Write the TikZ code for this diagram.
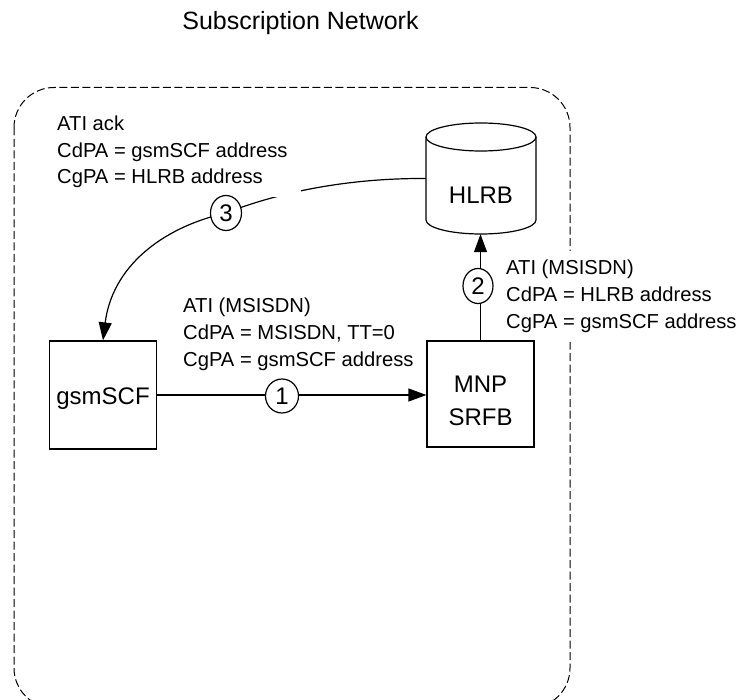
\documentclass[tikz,border=0pt]{standalone}
\usepackage{fontspec}
\setmainfont{Liberation Sans}
\usetikzlibrary{arrows.meta,shapes.geometric}
\tikzset{
  boxn/.style={draw,line width=1.2pt,minimum width=107pt,inner sep=0pt},
  boxt/.style={inner sep=0pt,anchor=base,font=\fontsize{24}{28}\selectfont},
  numc/.style={draw,ellipse,fill=white,line width=1.2pt,inner sep=0pt,font=\fontsize{24}{24}\selectfont},
  lab/.style={anchor=north west,fill=white,inner xsep=13pt,inner ysep=9.5pt,align=left,font=\fontsize{20.2}{26.7}\selectfont},
  conn/.style={line width=1.2pt,-{Triangle[length=18pt,width=13pt]}},
  border/.style={line width=1pt,dash pattern=on 8pt off 3.5pt}
}
\begin{document}
\begin{tikzpicture}[x=1pt,y=-1pt]
\useasboundingbox (0,0) rectangle (739,700);
\clip (0,0) rectangle (739,700);
\node[anchor=base,inner sep=0pt,font=\fontsize{25}{28}\selectfont] (title) at (300.5,30) {Subscription Network};
\draw[border,rounded corners=40pt] (14,87.5) rectangle (570,708);
\node[minimum width=110pt,minimum height=111pt,inner sep=0pt] (hlrb) at (481,178.5) {};
\coordinate (mid) at (226,213);
\node[boxn,minimum height=108pt] (scf) at (103,395) {};
\draw[conn] (hlrb.west) .. controls (340,178) and (272,195) .. (mid) .. controls (160,228) and (112,268) .. (scf.north);
\node[lab] (l3) at (44,106) {ATI ack\\CdPA = gsmSCF address\\CgPA = HLRB address};
\node[lab] (l1) at (170,288.5) {ATI (MSISDN)\\CdPA = MSISDN, TT=0\\CgPA = gsmSCF address};
\node[lab] (l2) at (493,250.5) {ATI (MSISDN)\\CdPA = HLRB address\\CgPA = gsmSCF address};
\node[boxn,minimum height=106pt] (srf) at (480.5,394) {};
\node[boxt] (scft) at (103,405) {gsmSCF};
\node[boxt] (srft1) at (480.5,393) {MNP};
\node[boxt] (srft2) at (480.5,425) {SRFB};
% HLRB cylinder
\draw[line width=1.2pt,fill=white] (426,137) -- (426,220) arc[start angle=180,end angle=0,x radius=55,y radius=14] -- (536,137);
\draw[line width=1.2pt] (481,137) ellipse[x radius=55,y radius=14];
\node[inner sep=0pt,font=\fontsize{24}{28}\selectfont] (hlrbtxt) at (481,195) {HLRB};
\draw[conn] (scf.east) -- (srf.west |- scf.east);
\draw[conn] (srf.north) -- (srf.north |- hlrb.south);
\node[numc,minimum width=33pt,minimum height=34pt] (n1) at (282,396) {\raisebox{-3pt}{1}};
\node[numc,minimum width=30pt,minimum height=35pt] (n2) at (478,286) {\raisebox{-3pt}{2}};
\node[numc,minimum width=31pt,minimum height=35pt] (n3) at (mid) {\raisebox{-3pt}{3}};
\end{tikzpicture}
\end{document}
